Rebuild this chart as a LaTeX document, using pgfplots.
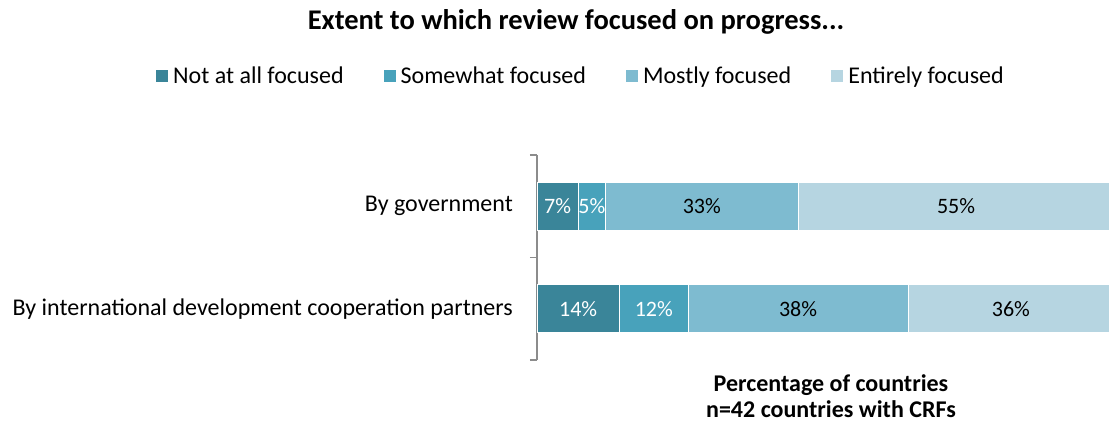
\documentclass[border=0pt]{standalone}
\usepackage{pgfplots}
\pgfplotsset{compat=1.18}
\usepackage{fontspec}
\setmainfont{Carlito}
\definecolor{c1}{HTML}{3A8599}
\definecolor{c2}{HTML}{48A2BB}
\definecolor{c3}{HTML}{7EBBD0}
\definecolor{c4}{HTML}{B6D5E1}
\definecolor{axgray}{HTML}{8C8C8C}
\begin{document}
\begin{tikzpicture}
\path[use as bounding box] (-537pt,-66pt) rectangle (572pt,360pt);
\pgfplotsset{common/.style={width=577pt,height=205pt,scale only axis,xmin=0,xmax=100,ymin=-0.5,ymax=1.5}}
\begin{axis}[common, xbar stacked, bar width=48pt,
  axis x line=none, axis y line*=left,
  y axis line style={draw=axgray, line width=1.5pt},
  ytick={0,1},
  yticklabels={By international development cooperation partners, By government},
  major tick length=0pt,
  yticklabel style={font=\fontsize{24}{28}\selectfont, inner sep=0pt, anchor=east, xshift=-24pt},
  extra y ticks={-0.5,0.5,1.5}, extra y tick labels={},
  extra y tick style={major tick length=7pt, tick align=outside, major tick style={draw=axgray, line width=1.5pt}},
  legend columns=4,
  legend style={at={(axis description cs:0.0745,1.385)}, anchor=center, draw=none, fill=none,
    font=\fontsize{24}{28}\selectfont, inner sep=0pt, nodes={inner sep=0pt},
    /tikz/every odd column/.append style={column sep=5pt},
    /tikz/every even column/.append style={column sep=40pt}},
  legend image code/.code={\fill[#1, draw=none] (0pt,-6pt) rectangle (12pt,6pt);},
]
\addplot[fill=c1, draw=white, line width=0.6pt] coordinates {(14.29,0) (7.14,1)};
\addplot[fill=c2, draw=white, line width=0.6pt] coordinates {(11.90,0) (4.76,1)};
\addplot[fill=c3, draw=white, line width=0.6pt] coordinates {(38.10,0) (33.33,1)};
\addplot[fill=c4, draw=white, line width=0.6pt] coordinates {(35.71,0) (54.76,1)};
\legend{Not at all focused, Somewhat focused, Mostly focused, Entirely focused}
\end{axis}
\begin{axis}[common, axis lines=none, ticks=none,
  every node near coord/.append style={anchor=center, font=\fontsize{22}{25}\selectfont}]
\addplot[draw=none, mark=none, nodes near coords, point meta=explicit symbolic,
  every node near coord/.append style={text=white}]
  coordinates {(3.57,1) [7\%] (9.52,1) [5\%] (7.14,0) [14\%] (20.24,0) [12\%]};
\addplot[draw=none, mark=none, nodes near coords, point meta=explicit symbolic,
  every node near coord/.append style={text=black}]
  coordinates {(28.57,1) [33\%] (72.62,1) [55\%] (45.24,0) [38\%] (82.14,0) [36\%]};
\end{axis}
\node[font=\bfseries\fontsize{28.5}{32}\selectfont] at (39pt,338pt) {Extent to which review focused on progress...};
\node[font=\bfseries\fontsize{24}{26}\selectfont, align=center] at (294pt,-36pt) {Percentage of countries\\n=42 countries with CRFs};
\end{tikzpicture}
\end{document}
